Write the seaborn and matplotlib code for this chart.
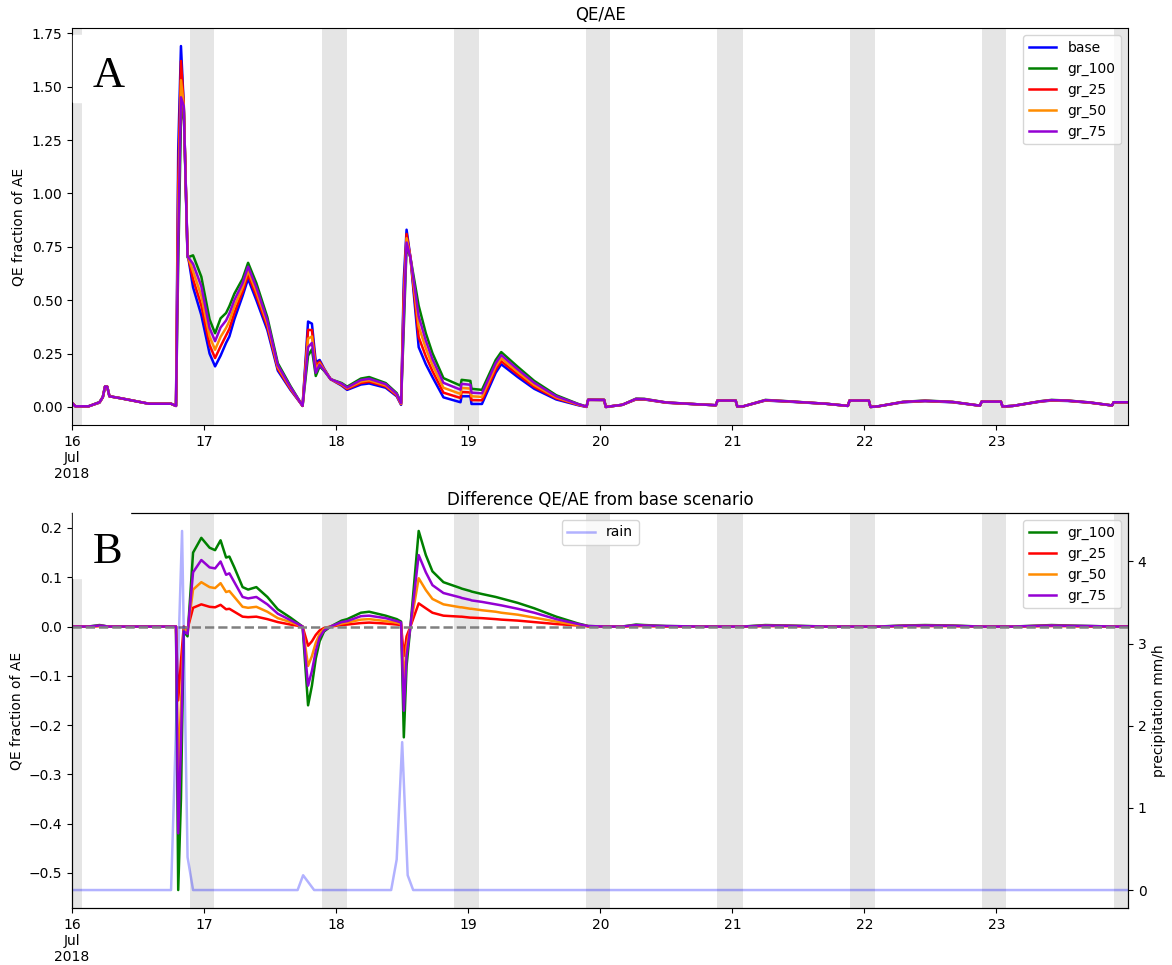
import numpy as np
import pandas as pd
import seaborn as sns
import matplotlib.pyplot as plt
from matplotlib.patches import Rectangle

# time axis: hours since 16 Jul 2018 00:00
hours = [
    0.0, 0.6, 3.0, 5.0, 5.6, 6.0, 6.4, 6.8, 9.0, 12.0,
    14.0, 18.0, 18.9, 19.3, 19.8, 20.3, 21.0, 22.0, 23.5, 25.0,
    26.0, 27.0, 28.0, 28.6, 29.5, 31.0, 32.0, 33.5, 35.5, 37.4,
    39.7, 41.9, 42.9, 43.6, 44.3, 45.0, 45.8, 47.0, 49.0, 50.0,
    52.5, 54.0, 57.0, 59.0, 59.8, 60.3, 60.8, 61.5, 63.0, 64.3,
    65.5, 67.5, 70.6, 70.8, 72.4, 72.6, 74.5, 77.0, 78.0, 81.0,
    84.0, 88.0, 92.0, 93.5, 93.8, 96.7, 97.0, 100.0, 102.5, 104.0,
    108.0, 114.0, 117.0, 117.3, 120.6, 120.9, 122.0, 126.0, 130.0, 137.0,
    141.0, 141.3, 144.8, 145.1, 146.5, 151.0, 155.0, 160.0, 165.0, 165.3,
    168.8, 169.1, 171.0, 176.0, 178.0, 181.0, 185.0, 189.0, 189.3, 192.0,
]

# QE/AE of the base scenario
base = [
    0.020, 0.003, 0.003, 0.020, 0.045, 0.095, 0.095, 0.050, 0.040, 0.025,
    0.015, 0.015, 0.005, 1.200, 1.690, 1.420, 0.720, 0.560, 0.430, 0.250,
    0.190, 0.240, 0.300, 0.330, 0.410, 0.520, 0.600, 0.500, 0.360, 0.170,
    0.080, 0.005, 0.400, 0.390, 0.210, 0.220, 0.180, 0.130, 0.100, 0.080,
    0.105, 0.110, 0.090, 0.050, 0.010, 0.600, 0.830, 0.700, 0.280, 0.200,
    0.140, 0.045, 0.022, 0.050, 0.050, 0.014, 0.014, 0.160, 0.200, 0.140,
    0.085, 0.035, 0.008, 0.000, 0.033, 0.033, 0.000, 0.010, 0.035, 0.035,
    0.020, 0.012, 0.008, 0.030, 0.030, 0.002, 0.003, 0.030, 0.025, 0.015,
    0.005, 0.030, 0.030, 0.000, 0.003, 0.022, 0.027, 0.022, 0.006, 0.025,
    0.025, 0.002, 0.005, 0.025, 0.030, 0.028, 0.020, 0.007, 0.022, 0.022,
]

# difference from base scenario
diff_gr_100 = [
    0, 0, 0, 0.003, 0.002, 0.001, 0, 0, 0, 0,
    0, 0, 0, -0.535, -0.350, -0.010, -0.020, 0.150, 0.180, 0.160,
    0.155, 0.175, 0.140, 0.142, 0.120, 0.080, 0.075, 0.080, 0.060, 0.035,
    0.018, 0, -0.160, -0.120, -0.065, -0.030, -0.010, 0, 0.012, 0.015,
    0.028, 0.030, 0.022, 0.015, 0.010, -0.225, -0.080, 0, 0.194, 0.145,
    0.112, 0.090, 0.078, 0.077, 0.072, 0.071, 0.066, 0.060, 0.057, 0.048,
    0.037, 0.020, 0.006, 0.002, 0.001, 0, 0, 0, 0.004, 0.003,
    0.001, 0, 0, 0, 0, 0, 0, 0.003, 0.002, 0,
    0, 0, 0, 0, 0, 0.002, 0.003, 0.002, 0, 0,
    0, 0, 0, 0.002, 0.003, 0.002, 0.001, 0, 0, 0,
]
diff_gr_25 = [
    0, 0, 0, 0.001, 0.0005, 0, 0, 0, 0, 0,
    0, 0, 0, -0.150, -0.070, 0.000, -0.005, 0.038, 0.045, 0.040,
    0.039, 0.044, 0.035, 0.036, 0.030, 0.020, 0.019, 0.020, 0.015, 0.009,
    0.004, 0, -0.039, -0.030, -0.017, -0.008, -0.003, 0, 0.003, 0.004,
    0.007, 0.008, 0.006, 0.004, 0.003, -0.060, -0.020, 0, 0.047, 0.037,
    0.028, 0.022, 0.020, 0.020, 0.018, 0.018, 0.017, 0.015, 0.014, 0.012,
    0.009, 0.005, 0.002, 0.001, 0, 0, 0, 0, 0.001, 0.001,
    0, 0, 0, 0, 0, 0, 0, 0.001, 0.001, 0,
    0, 0, 0, 0, 0, 0.001, 0.001, 0.001, 0, 0,
    0, 0, 0, 0.001, 0.001, 0.001, 0, 0, 0, 0,
]
diff_gr_50 = [
    0, 0, 0, 0.001, 0.001, 0.0005, 0, 0, 0, 0,
    0, 0, 0, -0.300, -0.160, -0.005, -0.010, 0.075, 0.090, 0.080,
    0.078, 0.088, 0.070, 0.072, 0.060, 0.040, 0.038, 0.040, 0.030, 0.017,
    0.009, 0, -0.080, -0.060, -0.033, -0.015, -0.005, 0, 0.006, 0.008,
    0.014, 0.015, 0.011, 0.008, 0.005, -0.113, -0.040, 0, 0.098, 0.074,
    0.056, 0.045, 0.039, 0.039, 0.036, 0.036, 0.033, 0.030, 0.028, 0.024,
    0.018, 0.010, 0.003, 0.001, 0.0005, 0, 0, 0, 0.002, 0.0015,
    0.0005, 0, 0, 0, 0, 0, 0, 0.0015, 0.001, 0,
    0, 0, 0, 0, 0, 0.001, 0.0015, 0.001, 0, 0,
    0, 0, 0, 0.001, 0.0015, 0.001, 0.0005, 0, 0, 0,
]
diff_gr_75 = [
    0, 0, 0, 0.002, 0.0015, 0.001, 0, 0, 0, 0,
    0, 0, 0, -0.420, -0.240, -0.010, -0.015, 0.110, 0.135, 0.120,
    0.118, 0.132, 0.105, 0.108, 0.090, 0.060, 0.057, 0.060, 0.045, 0.026,
    0.013, 0, -0.120, -0.090, -0.050, -0.022, -0.008, 0, 0.009, 0.011,
    0.021, 0.022, 0.017, 0.011, 0.008, -0.171, -0.060, 0, 0.145, 0.110,
    0.084, 0.068, 0.059, 0.058, 0.054, 0.053, 0.050, 0.045, 0.043, 0.036,
    0.028, 0.015, 0.005, 0.0015, 0.001, 0, 0, 0, 0.003, 0.002,
    0.001, 0, 0, 0, 0, 0, 0, 0.002, 0.0015, 0,
    0, 0, 0, 0, 0, 0.0015, 0.002, 0.0015, 0, 0,
    0, 0, 0, 0.0015, 0.002, 0.0015, 0.001, 0, 0, 0,
]

# precipitation
rain_hours = [0, 18, 20, 21, 22, 41, 42, 44, 58, 59, 60, 61, 62, 192]
rain_mm = [0, 0, 4.37, 0.40, 0, 0, 0.18, 0, 0, 0.37, 1.8, 0.18, 0, 0]

# grey bands (hours)
night_start = [0.0, 21.4, 45.4, 69.4, 93.4, 117.3, 141.3, 165.4, 189.4]
night_end = [1.9, 25.8, 49.9, 73.9, 97.8, 121.9, 145.9, 169.8, 192.0]

day_labels = ["16\nJul\n2018", "17", "18", "19", "20", "21", "22", "23"]

start = pd.Timestamp("2018-07-16")
time = start + pd.to_timedelta(hours, unit="h")
rain_time = start + pd.to_timedelta(rain_hours, unit="h")

colors = {"base": "blue", "gr_100": "green", "gr_25": "red",
          "gr_50": "darkorange", "gr_75": "darkviolet"}
scenarios = ["gr_100", "gr_25", "gr_50", "gr_75"]
diffs = {"gr_100": diff_gr_100, "gr_25": diff_gr_25,
         "gr_50": diff_gr_50, "gr_75": diff_gr_75}

qe = pd.DataFrame({"time": time, "base": base})
for s in scenarios:
    qe[s] = qe["base"] + np.array(diffs[s])

long_a = qe.melt(id_vars="time", var_name="scenario", value_name="value")
dq = qe[["time"]].copy()
for s in scenarios:
    dq[s] = qe[s] - qe["base"]
long_b = dq.melt(id_vars="time", var_name="scenario", value_name="value")

W, H = 1172, 965
fig = plt.figure(figsize=(W / 100, H / 100), dpi=100)
axA = fig.add_axes([72 / W, 1 - 425 / H, (1128 - 72) / W, (425 - 28) / H])
axB = fig.add_axes([72 / W, 1 - 908 / H, (1128 - 72) / W, (908 - 513) / H])

days = pd.date_range("2018-07-16", periods=8, freq="D")
x_end = start + pd.Timedelta(hours=191.9)


def shade(ax):
    for s, e in zip(night_start, night_end):
        ax.axvspan(start + pd.Timedelta(hours=s), start + pd.Timedelta(hours=e),
                   color="grey", alpha=0.2, lw=0, zorder=0)


# Panel A
sns.lineplot(data=long_a, x="time", y="value", hue="scenario",
             hue_order=["base"] + scenarios, palette=colors, lw=1.8, ax=axA)
shade(axA)
sns.move_legend(axA, "upper right", title=None)
axA.set_title("QE/AE")
axA.set_ylabel("QE fraction of AE")
axA.set_xlabel("")
axA.set_xticks(days)
axA.set_xticklabels(day_labels)
axA.set_xlim(start, x_end)

# Panel B
sns.lineplot(data=long_b, x="time", y="value", hue="scenario",
             hue_order=scenarios, palette=colors, lw=1.8, ax=axB)
shade(axB)
axB.axhline(0, color="grey", ls="--", lw=1.8, zorder=3)
sns.move_legend(axB, "upper right", title=None)
axB.set_title("Difference QE/AE from base scenario")
axB.set_ylabel("QE fraction of AE")
axB.set_xlabel("")

ax2 = axB.twinx()
sns.lineplot(x=rain_time, y=rain_mm, color="blue", alpha=0.3, lw=1.8,
             label="rain", ax=ax2)
ax2.legend(loc="upper center")
ax2.set_ylabel("precipitation mm/h")
axB.set_xticks(days)
axB.set_xticklabels(day_labels)
axB.set_xlim(start, x_end)

# panel letters on white boxes
fig.add_artist(Rectangle((73 / W, 1 - 102 / H), 57 / W, 67 / H,
                         transform=fig.transFigure, color="white", zorder=5))
fig.add_artist(Rectangle((73 / W, 1 - 578 / H), 57 / W, 98 / H,
                         transform=fig.transFigure, color="white", zorder=5))
fig.text(109 / W, 1 - 87 / H, "A", family="Liberation Serif", fontsize=32,
         ha="center", va="baseline", zorder=6)
fig.text(108 / W, 1 - 563 / H, "B", family="Liberation Serif", fontsize=32,
         ha="center", va="baseline", zorder=6)

fig.savefig("out.png", dpi=100)
